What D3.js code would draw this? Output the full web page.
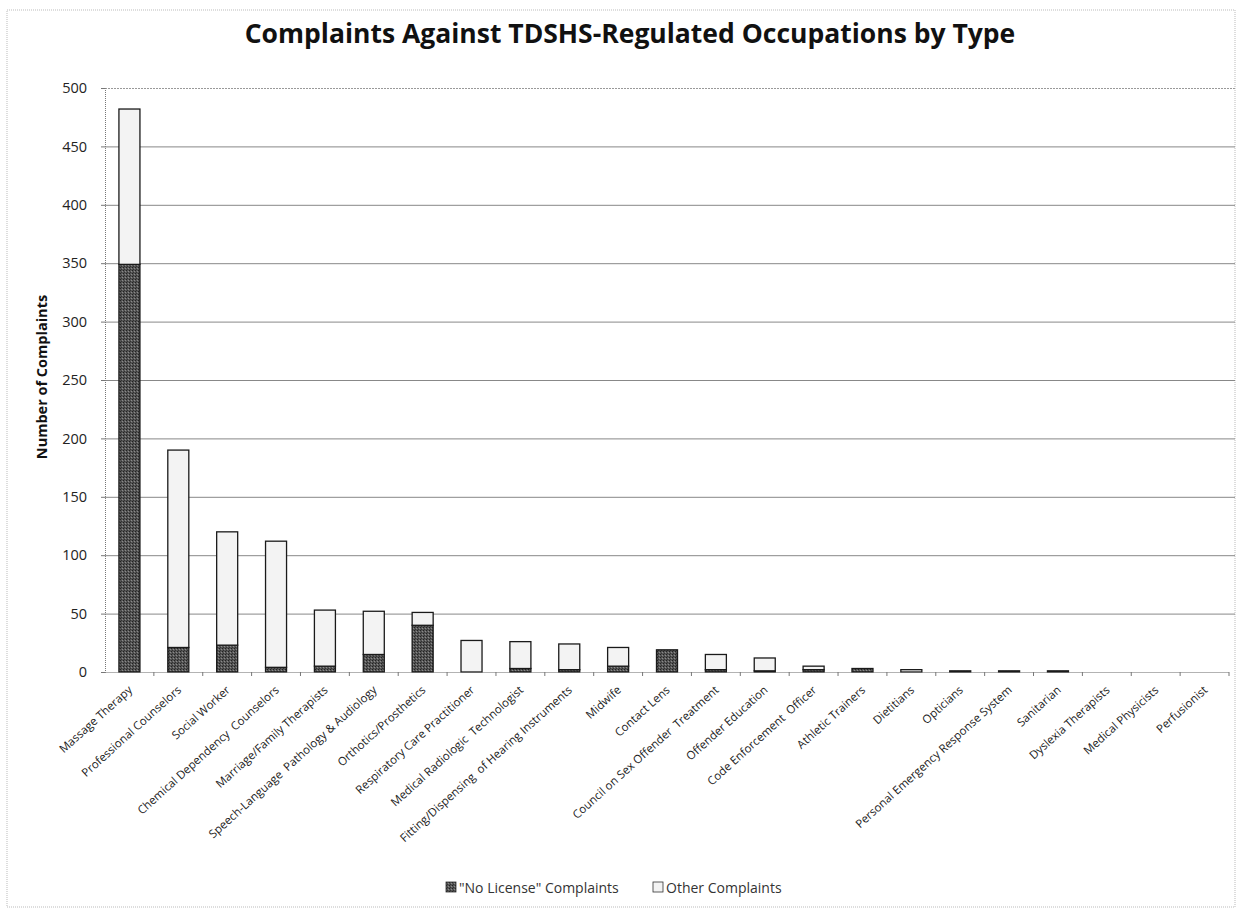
<!DOCTYPE html>
<html>
<head>
<meta charset="utf-8">
<script src="https://cdn.jsdelivr.net/npm/d3@7"></script>
<style>
  body { margin: 0; background: #fff; }
  svg { display: block; }
  text { font-family: "Open Sans", "DejaVu Sans", sans-serif; fill: #222; }
</style>
</head>
<body>
<svg id="chart" width="1237" height="916"></svg>
<script>
const occupations = [
  "Massage Therapy", "Professional Counselors", "Social Worker",
  "Chemical Dependency  Counselors", "Marriage/Family Therapists",
  "Speech-Language  Pathology & Audiology", "Orthotics/Prosthetics",
  "Respiratory Care Practitioner", "Medical Radiologic  Technologist",
  "Fitting/Dispensing  of Hearing Instruments", "Midwife", "Contact Lens",
  "Council on Sex Offender  Treatment", "Offender Education",
  "Code Enforcement  Officer", "Athletic Trainers", "Dietitians", "Opticians",
  "Personal Emergency Response System", "Sanitarian", "Dyslexia Therapists",
  "Medical Physicists", "Perfusionist"
];
const noLicense = [349, 21, 23, 4, 5, 15, 40, 0, 3, 2, 5, 19, 2, 1, 2, 3, 0, 1, 1, 1, 0, 0, 0];
const otherComplaints = [133, 169, 97, 108, 48, 37, 11, 27, 23, 22, 16, 0, 13, 11, 3, 0, 2, 0, 0, 0, 0, 0, 0];
const yTicks = [0, 50, 100, 150, 200, 250, 300, 350, 400, 450, 500];
const seriesNames = ["\"No License\" Complaints", "Other Complaints"];

const svg = d3.select("#chart");
const margin = { top: 88, right: 5, bottom: 244, left: 105 };
const width = 1237, height = 916;

// dark hatch pattern for "No License"
const defs = svg.append("defs");
const pat = defs.append("pattern")
  .attr("id", "hatch").attr("width", 3).attr("height", 3)
  .attr("patternUnits", "userSpaceOnUse");
pat.append("rect").attr("width", 3).attr("height", 3).attr("fill", "#555");
pat.append("rect").attr("width", 1).attr("height", 1).attr("fill", "#222");
pat.append("rect").attr("x", 2).attr("y", 1).attr("width", 1).attr("height", 1).attr("fill", "#8a8a8a");
pat.append("rect").attr("x", 1).attr("y", 2).attr("width", 1).attr("height", 1).attr("fill", "#333");

// outer frame
svg.append("rect")
  .attr("x", 7).attr("y", 10).attr("width", 1228).attr("height", 897)
  .attr("fill", "none").attr("stroke", "#bbb").attr("stroke-dasharray", "1,1");

const x = d3.scaleBand()
  .domain(occupations)
  .range([margin.left, width - margin.right - 3])
  .paddingInner(0.57).paddingOuter(0.285);

const y = d3.scaleLinear()
  .domain([0, 500])
  .range([672, margin.top]);

// grid lines
svg.append("g")
  .attr("transform", `translate(${margin.left},0)`)
  .call(d3.axisLeft(y).tickValues(yTicks.filter(d => d > 0)).tickSize(-(width - margin.left - 2)).tickFormat(() => ""))
  .call(g => g.select(".domain").remove())
  .call(g => g.selectAll("line").attr("stroke", "#888").attr("stroke-width", 1))
  .call(g => g.selectAll(".tick").filter(d => d === 500).select("line").attr("stroke-dasharray", "2,1").attr("stroke", "#999"));

// left axis (dotted)
svg.append("g")
  .attr("transform", `translate(${margin.left},0)`)
  .call(d3.axisLeft(y).tickValues(yTicks).tickSize(4).tickPadding(14))
  .call(g => g.select(".domain").attr("stroke", "#777").attr("stroke-dasharray", "1,1"))
  .call(g => g.selectAll("line").attr("stroke", "#777"))
  .call(g => g.selectAll("text").attr("font-size", 14.5).style("fill", "#222"));

// stacked bars
const stackData = occupations.map((o, i) => ({ name: o, noLicense: noLicense[i], other: otherComplaints[i] }));
const series = d3.stack().keys(["noLicense", "other"])(stackData);
const fills = ["url(#hatch)", "#f3f3f3"];

svg.append("g")
  .selectAll("g")
  .data(series)
  .join("g")
  .attr("fill", (d, i) => fills[i])
  .attr("stroke", "#1a1a1a")
  .attr("stroke-width", 1.3)
  .selectAll("rect")
  .data(d => d.filter(s => s[1] - s[0] > 0))
  .join("rect")
  .attr("x", d => x(d.data.name))
  .attr("width", x.bandwidth())
  .attr("y", d => y(d[1]))
  .attr("height", d => y(d[0]) - y(d[1]));

// baseline with category tick marks
const boundaries = occupations.map(o => x(o) - x.step() * x.paddingInner() / 2);
boundaries.push(boundaries[boundaries.length - 1] + x.step());
svg.append("g")
  .attr("transform", `translate(0,${y(0)})`)
  .call(d3.axisBottom(d3.scaleLinear().domain([0, 1]).range([margin.left, boundaries[boundaries.length - 1]]))
    .tickValues([]).tickSizeOuter(0))
  .call(g => g.select(".domain").attr("stroke", "#666").attr("stroke-dasharray", "1,1"))
  .call(g => g.selectAll(".btick").data(boundaries.slice(1)).join("line")
    .attr("class", "btick")
    .attr("x1", d => d).attr("x2", d => d).attr("y1", 0).attr("y2", 4)
    .attr("stroke", "#777"));

// x labels, rotated
svg.append("g")
  .selectAll("text")
  .data(occupations)
  .join("text")
  .attr("transform", d => `translate(${x(d) + x.bandwidth() / 2 + 1},${y(0) + 16}) rotate(-42)`)
  .attr("text-anchor", "end")
  .attr("font-size", 11.5)
  .attr("dy", "0.35em")
  .style("white-space", "pre")
  .text(d => d);

// title
svg.append("text")
  .attr("x", 630).attr("y", 43)
  .attr("text-anchor", "middle")
  .attr("font-size", 26.5)
  .attr("font-weight", "bold")
  .style("fill", "#111")
  .text("Complaints Against TDSHS-Regulated Occupations by Type");

// y axis title
svg.append("text")
  .attr("transform", "translate(47,377) rotate(-90)")
  .attr("text-anchor", "middle")
  .attr("font-size", 14.5)
  .attr("font-weight", "bold")
  .style("fill", "#111")
  .text("Number of Complaints");

// legend
const legend = svg.append("g").attr("transform", "translate(446,888)");
const legendItems = [
  { label: seriesNames[0], fill: "url(#hatch)", dx: 0 },
  { label: seriesNames[1], fill: "#f3f3f3", dx: 207 }
];
legendItems.forEach(item => {
  const g = legend.append("g").attr("transform", `translate(${item.dx},0)`);
  g.append("rect").attr("x", 0).attr("y", -6).attr("width", 10).attr("height", 10)
    .attr("fill", item.fill).attr("stroke", "#333").attr("stroke-width", 0.8);
  g.append("text").attr("x", 13).attr("y", 0).attr("dy", "0.35em")
    .attr("font-size", 14).style("fill", "#333").text(item.label);
});
</script>
</body>
</html>
